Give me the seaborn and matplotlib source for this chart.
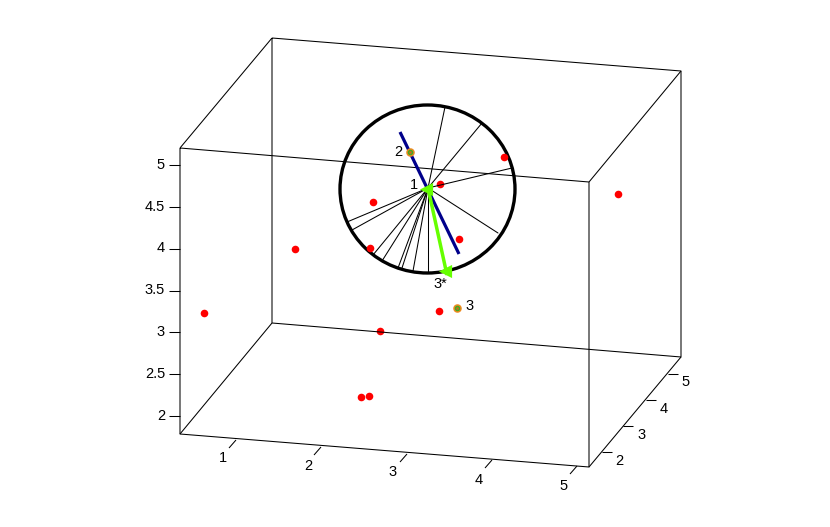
import matplotlib
matplotlib.use("Agg")
import matplotlib.pyplot as plt
from matplotlib.patches import Ellipse
import pandas as pd
import seaborn as sns

sns.set_theme(style="white")
plt.rcParams['font.family'] = ['Liberation Sans', 'DejaVu Sans']

# Values, in the picture's projected plane
point_x = [618, 504, 439.5, 373, 459, 370, 295, 204, 439, 380, 361, 369]
point_y = [194, 157, 184, 202, 239, 248, 249, 313, 311, 331, 397, 396]
marked_x = [410, 456.5]
marked_y = [152, 307.5]

corner_front_x = [180, 589, 589, 180, 180]
corner_front_y = [148, 182, 467, 434, 148]
corner_back_x = [272, 681, 681, 272, 272]
corner_back_y = [38, 71, 357, 323, 38]

hub_x, hub_y = 428, 188
spoke_end_x = [445, 482, 512, 347, 352, 373, 382, 398, 402, 413, 428, 498]
spoke_end_y = [107, 123, 168, 222, 230, 255, 261, 268, 268, 271, 272, 233]

blue_x = [400, 459]
blue_y = [132, 254]
green_x = [428, 447]
green_y = [188, 275]
arrow_x = [425.5, 444.5]
arrow_y = [189, 271]

circle_center = (427.5, 189)
circle_w, circle_h = 175, 168

x_tick_labels = ['1', '2', '3', '4', '5']
x_tick_x = [236, 321, 407, 492, 577]
x_tick_y = [440, 447, 454, 460, 466]
x_label_x = [223, 308, 393, 479, 564]
x_label_y = [458, 466, 472, 480, 486]

y_tick_labels = ['2', '3', '4', '5']
y_tick_x = [602, 623, 646, 668]
y_tick_y = [452, 426, 400, 373.5]
y_label_x = [619, 642, 664, 686]
y_label_y = [461, 435, 409, 382]

z_tick_labels = ['2', '2.5', '3', '3.5', '4', '4.5', '5']
z_tick_y = [416, 374, 332, 290.5, 248.5, 207, 165]

notes = ['1', '2', '3', '3*']
note_x = [414, 398, 470, 440]
note_y = [185, 152, 306, 284]

FS = 10.5
fig = plt.figure(figsize=(8.3, 5.27), dpi=100)
ax = fig.add_axes([0, 0, 1, 1])
ax.set_xlim(0, 830)
ax.set_ylim(527, 0)
ax.axis('off')

LW = 0.75
k = dict(color='black', lw=LW, solid_capstyle='butt')
ax.plot(corner_back_x, corner_back_y, **k)
for a, b, c, d in zip(corner_front_x[:4], corner_front_y[:4], corner_back_x[:4], corner_back_y[:4]):
    ax.plot([a, c], [b, d], **k)
ax.plot(corner_front_x, corner_front_y, **k)

for x, y in zip(x_tick_x, x_tick_y):
    ax.plot([x, x - 7], [y, y + 8], **k)
for x, y, t in zip(x_label_x, x_label_y, x_tick_labels):
    ax.text(x, y, t, ha='center', va='center', fontsize=FS, color='black')
for x, y in zip(y_tick_x, y_tick_y):
    ax.plot([x, x + 10], [y, y], **k)
for x, y, t in zip(y_label_x, y_label_y, y_tick_labels):
    ax.text(x, y, t, ha='center', va='center', fontsize=FS, color='black')
for y, t in zip(z_tick_y, z_tick_labels):
    ax.plot([169, 180], [y, y], **k)
    ax.text(165, y, t, ha='right', va='center', fontsize=FS, color='black')

spokes = pd.DataFrame({
    'x': [v for e in spoke_end_x for v in (hub_x, e)],
    'y': [v for e in spoke_end_y for v in (hub_y, e)],
    'id': [i for i in range(len(spoke_end_x)) for _ in (0, 1)],
})
sns.lineplot(data=spokes, x='x', y='y', units='id', estimator=None, sort=False,
             color='black', lw=LW, ax=ax, legend=False)
ax.add_patch(Ellipse(circle_center, circle_w, circle_h, fill=False, ec='black', lw=2.4))

sns.scatterplot(x=point_x, y=point_y, color='#ff0000', s=30, linewidth=0, ax=ax, legend=False)

ax.plot(blue_x, blue_y, color='#00008b', lw=2.3, solid_capstyle='butt', zorder=3)
ax.plot(green_x, green_y, color='#66ff00', lw=2.5, solid_capstyle='butt', zorder=6)
ax.scatter(arrow_x, arrow_y, marker='<', s=90, color='#66ff00', linewidth=0, zorder=6)

sns.scatterplot(x=marked_x, y=marked_y, color='#ee8a20', s=38, linewidth=0, ax=ax, legend=False, zorder=4)
ax.scatter(marked_x, marked_y, s=9, marker='o', facecolor='#c07020', edgecolor='#44aa22', linewidth=1.0, zorder=5)

for x, y, t in zip(note_x, note_y, notes):
    ax.text(x, y, t, ha='center', va='center', fontsize=FS, color='black', zorder=7)

ax.set_xlim(0, 830)
ax.set_ylim(527, 0)
ax.set_xlabel('')
ax.set_ylabel('')
fig.savefig('out.png', dpi=100, facecolor='white')
